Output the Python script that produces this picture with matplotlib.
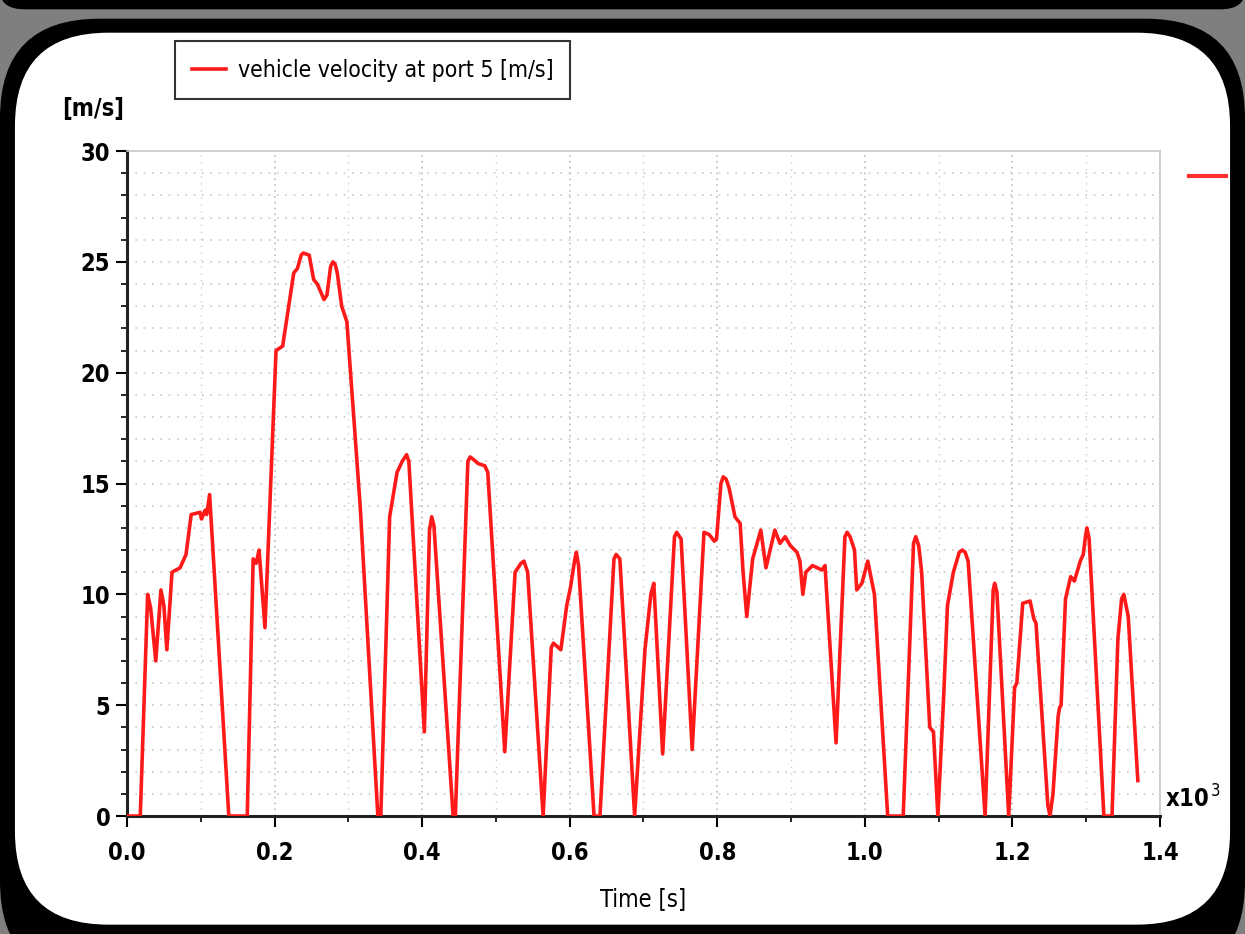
import matplotlib
matplotlib.use('Agg')
import matplotlib.pyplot as plt
import numpy as np
from matplotlib.patches import FancyBboxPatch
from matplotlib.ticker import MultipleLocator

# time in seconds, velocity in m/s
time_s = [0, 18, 28, 32, 39, 46, 50, 54, 61, 72, 80, 87, 99, 101, 106, 108, 112,
          138, 163, 171, 175, 179, 187, 202, 211, 226, 231, 236, 239, 243, 247, 253, 258, 267, 271, 276, 279, 282, 285, 291, 298,
          316, 340, 344, 356, 366, 373, 377, 379, 382,
          403, 410, 413, 416, 442, 445, 462, 465, 469, 476, 485, 489,
          512, 526, 534, 538, 543, 564, 575, 578, 588, 596, 601, 607, 609, 612,
          633, 641, 660, 663, 668, 688, 702, 710, 714, 726, 742, 745, 751, 766,
          782, 789, 796, 799, 805, 808, 812, 816, 824, 831, 835, 840,
          848, 859, 866, 878, 885, 892, 899, 908, 912, 916, 920, 929, 942, 946,
          961, 973, 976, 980, 986, 989, 996, 1004, 1013, 1031, 1052, 1066, 1069, 1073, 1077, 1088, 1093, 1099,
          1107, 1112, 1120, 1128, 1132, 1136, 1140, 1163, 1174, 1176, 1179, 1195, 1203, 1206, 1214, 1224, 1229, 1232,
          1248, 1251, 1255, 1262, 1264, 1266, 1272, 1279, 1284, 1292, 1296, 1299, 1301, 1304,
          1324, 1335, 1343, 1348, 1351, 1357, 1370]
velocity = [0, 0, 10, 9.4, 7, 10.2, 9.5, 7.5, 11, 11.2, 11.8, 13.6, 13.7, 13.4, 13.8, 13.6, 14.5,
            0, 0, 11.6, 11.4, 12, 8.5, 21, 21.2, 24.5, 24.7, 25.3, 25.4, 25.35, 25.3, 24.2, 24, 23.3, 23.5, 24.8, 25, 24.9, 24.5, 23, 22.3,
            14, 0, 0, 13.5, 15.5, 16, 16.2, 16.3, 16.0,
            3.8, 12.9, 13.5, 13.1, 0, 0, 16.0, 16.2, 16.1, 15.9, 15.8, 15.5,
            2.9, 11, 11.4, 11.5, 11, 0, 7.6, 7.8, 7.5, 9.5, 10.3, 11.6, 11.9, 11.3,
            0, 0, 11.6, 11.8, 11.6, 0, 7.5, 10, 10.5, 2.8, 12.6, 12.8, 12.5, 3,
            12.8, 12.7, 12.4, 12.5, 15.0, 15.3, 15.2, 14.8, 13.5, 13.2, 11, 9,
            11.6, 12.9, 11.2, 12.9, 12.3, 12.6, 12.2, 11.9, 11.5, 10, 11, 11.3, 11.1, 11.3,
            3.3, 12.6, 12.8, 12.6, 12, 10.2, 10.5, 11.5, 10, 0, 0, 12.3, 12.6, 12.2, 11, 4, 3.8, 0,
            5.5, 9.5, 11, 11.9, 12, 11.9, 11.5, 0, 10.2, 10.5, 10.1, 0, 5.8, 6, 9.6, 9.7, 8.9, 8.7,
            0.5, 0, 1, 4.5, 4.9, 5, 9.8, 10.8, 10.6, 11.5, 11.8, 12.6, 13, 12.5,
            0, 0, 8, 9.8, 10, 9, 1.6]

x_ticks = [0.0, 0.2, 0.4, 0.6, 0.8, 1.0, 1.2, 1.4]
y_ticks = [0, 5, 10, 15, 20, 25, 30]

plt.rcParams['font.family'] = ['DejaVu Sans']
plt.rcParams['font.stretch'] = 'condensed'

fig = plt.figure(figsize=(12.45, 9.34), dpi=100)
fig.patch.set_facecolor('#7f7f7f')

# frame of the previous panel at the top edge
fig.patches.append(FancyBboxPatch((0.0, 0.99), 1.0, 0.05, boxstyle='round,pad=0,rounding_size=0.02',
                                  transform=fig.transFigure, facecolor='black', edgecolor='none', zorder=0))
# black rounded panel with white inside
fig.patches.append(FancyBboxPatch((0.0, -0.05), 1.0, 1.03, boxstyle='round,pad=0,rounding_size=0.08',
                                  transform=fig.transFigure, facecolor='black', edgecolor='none',
                                  mutation_aspect=1.33, zorder=0))
fig.patches.append(FancyBboxPatch((0.012, 0.01), 0.976, 0.955, boxstyle='round,pad=0,rounding_size=0.075',
                                  transform=fig.transFigure, facecolor='white', edgecolor='none',
                                  mutation_aspect=1.33, zorder=0))

ax = fig.add_axes([0.102, 0.1263, 0.8297, 0.712])
ax.set_zorder(2)
ax.set_facecolor('white')
t = np.array(time_s) / 1000.0
line, = ax.plot(t, velocity, color='#ff1a1a', lw=2.6, solid_joinstyle='round', zorder=3,
                label='vehicle velocity at port 5 [m/s]')

ax.set_xlim(0, 1.4)
ax.set_ylim(0, 30)
ax.set_xticks(x_ticks)
ax.set_yticks(y_ticks)
ax.set_xticklabels([f'{v:.1f}' for v in x_ticks], fontsize=17, fontweight='bold')
ax.set_yticklabels([str(v) for v in y_ticks], fontsize=17, fontweight='bold')
ax.xaxis.set_minor_locator(MultipleLocator(0.1))
ax.yaxis.set_minor_locator(MultipleLocator(1))
ax.tick_params(axis='both', which='major', length=8, width=1.5, direction='out', color='black')
ax.tick_params(axis='both', which='minor', length=4, width=1.2, direction='out', color='black')
ax.tick_params(axis='x', which='major', pad=10)
ax.tick_params(axis='y', which='major', pad=4)
ax.grid(True, which='major', axis='x', color='#bbbbbb', linestyle=(0, (1, 2.5)), lw=1.2)
ax.grid(True, which='minor', axis='x', color='#cccccc', linestyle=(0, (1, 4)), lw=1.0)
ax.grid(True, which='both', axis='y', color='#c8c8c8', linestyle=(0, (1, 4)), lw=1.2)
for s in ['top', 'right']:
    ax.spines[s].set_color('#c8c8c8')
    ax.spines[s].set_linewidth(1.2)
for s in ['left', 'bottom']:
    ax.spines[s].set_color('#222222')
    ax.spines[s].set_linewidth(2.2)

ax.set_xlabel('Time [s]', fontsize=17, labelpad=16)
fig.text(0.05, 0.876, '[m/s]', fontsize=17, fontweight='bold')
fig.text(0.936, 0.135, r'x10$^{\,3}$', fontsize=17, fontweight='bold')

leg = fig.legend(handles=[line], loc='upper left', bbox_to_anchor=(0.131, 0.968), fontsize=16.5,
                 frameon=True, fancybox=False, edgecolor='black', handlelength=1.5, borderpad=0.75,
                 handletextpad=0.5)
leg.get_frame().set_linewidth(1.5)
leg.set_zorder(3)

# short red stub at the right edge
fig.add_artist(plt.Line2D([0.955, 0.985], [0.812, 0.812], color='#ff3030', lw=3, transform=fig.transFigure))

fig.savefig('out.png', dpi=100, facecolor=fig.get_facecolor())
